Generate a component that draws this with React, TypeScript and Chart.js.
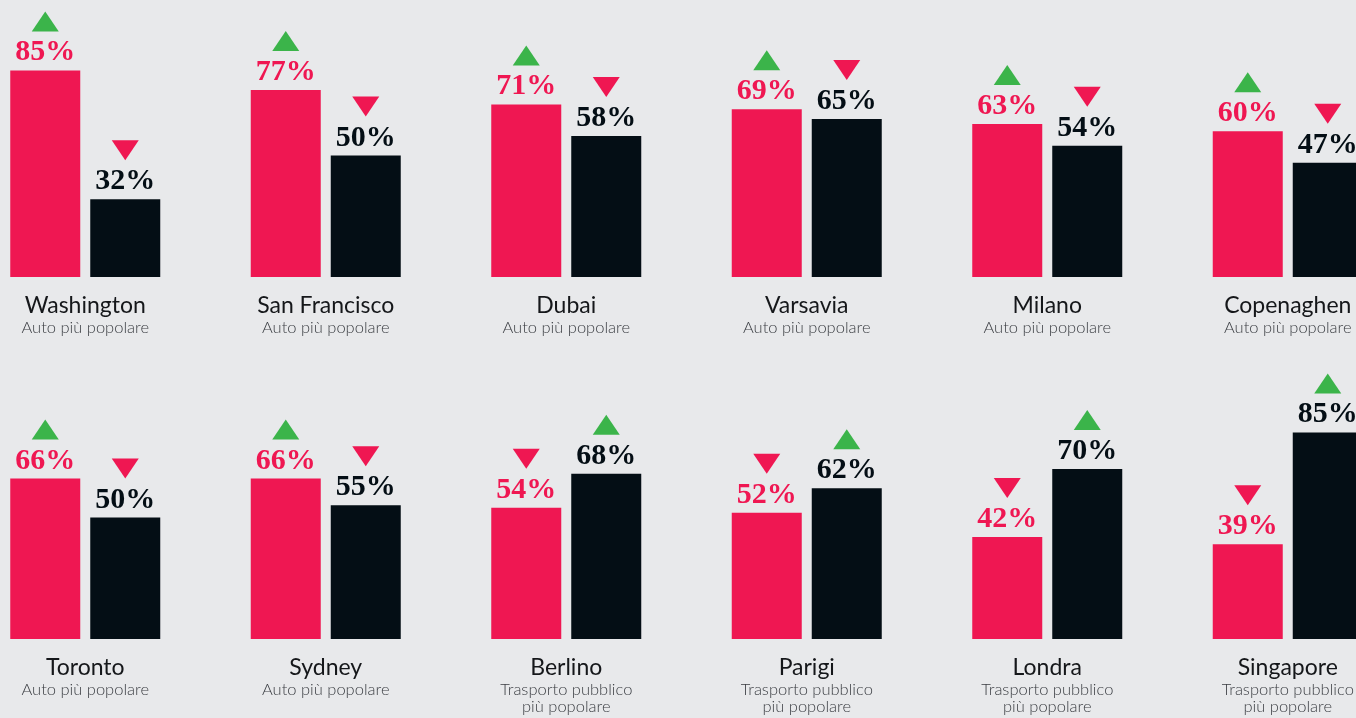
import { useEffect, useRef } from "react";
import { Chart, registerables } from "chart.js";

Chart.register(...registerables);

// ---- Data ----
const citiesTop = ["Washington", "San Francisco", "Dubai", "Varsavia", "Milano", "Copenaghen"];
const carTop = [85, 77, 71, 69, 63, 60];
const transitTop = [32, 50, 58, 65, 54, 47];
const notesTop = [
  "Auto più popolare",
  "Auto più popolare",
  "Auto più popolare",
  "Auto più popolare",
  "Auto più popolare",
  "Auto più popolare",
];

const citiesBottom = ["Toronto", "Sydney", "Berlino", "Parigi", "Londra", "Singapore"];
const carBottom = [66, 66, 54, 52, 42, 39];
const transitBottom = [50, 55, 68, 62, 70, 85];
const notesBottom = [
  "Auto più popolare",
  "Auto più popolare",
  "Trasporto pubblico\npiù popolare",
  "Trasporto pubblico\npiù popolare",
  "Trasporto pubblico\npiù popolare",
  "Trasporto pubblico\npiù popolare",
];

const seriesNames = ["Auto", "Trasporto pubblico"];

const PINK = "#ef1752";
const DARK = "#040e15";
const GREEN = "#3bb44a";
const BG = "#e8e9eb";

function makePlugin(notes: string[]) {
  return {
    id: "cityLabels",
    afterDatasetsDraw(chart: any) {
      const ctx: CanvasRenderingContext2D = chart.ctx;
      const ds = chart.data.datasets;
      const m0 = chart.getDatasetMeta(0);
      const m1 = chart.getDatasetMeta(1);
      ctx.save();
      [m0, m1].forEach((meta: any, di: number) => {
        meta.data.forEach((bar: any, i: number) => {
          const v = ds[di].data[i] as number;
          const other = ds[1 - di].data[i] as number;
          const x = bar.x;
          const baseline = bar.y - 10;
          ctx.font = 'bold 30px "Liberation Serif", serif';
          ctx.textAlign = "center";
          ctx.textBaseline = "alphabetic";
          ctx.fillStyle = di === 0 ? PINK : DARK;
          ctx.fillText(v + "%", x, baseline);
          // triangle
          const up = v > other;
          const tTop = baseline - 49;
          const tBot = baseline - 29;
          const hw = 13.5;
          ctx.beginPath();
          if (up) {
            ctx.moveTo(x, tTop);
            ctx.lineTo(x + hw, tBot);
            ctx.lineTo(x - hw, tBot);
          } else {
            ctx.moveTo(x - hw, tTop);
            ctx.lineTo(x + hw, tTop);
            ctx.lineTo(x, tBot);
          }
          ctx.closePath();
          ctx.fillStyle = up ? GREEN : PINK;
          ctx.fill();
        });
      });
      // city names and notes
      const xs = chart.scales.x;
      const bottom = chart.chartArea.bottom;
      (chart.data.labels as string[]).forEach((name: string, i: number) => {
        const x = xs.getPixelForValue(i);
        ctx.textAlign = "center";
        ctx.textBaseline = "alphabetic";
        ctx.fillStyle = "#15171a";
        ctx.font = '400 23px Lato, sans-serif';
        ctx.fillText(name, x, bottom + 36);
        ctx.fillStyle = "#3a3d42";
        ctx.font = '300 16.5px Lato, sans-serif';
        notes[i].split("\n").forEach((line, k) => {
          ctx.fillText(line, x, bottom + 56 + k * 17);
        });
      });
      ctx.restore();
    },
  };
}

function RowChart(props: {
  labels: string[];
  car: number[];
  transit: number[];
  notes: string[];
  top: number;
  padTop: number;
  padBottom: number;
}) {
  const ref = useRef<HTMLCanvasElement | null>(null);
  useEffect(() => {
    if (!ref.current) return;
    const chart = new Chart(ref.current, {
      type: "bar",
      data: {
        labels: props.labels,
        datasets: [
          {
            label: seriesNames[0],
            data: props.car,
            backgroundColor: PINK,
            categoryPercentage: 160 / 240.5,
            barPercentage: 70 / 80,
          },
          {
            label: seriesNames[1],
            data: props.transit,
            backgroundColor: DARK,
            categoryPercentage: 160 / 240.5,
            barPercentage: 70 / 80,
          },
        ],
      },
      options: {
        responsive: false,
        animation: false,
        layout: { padding: { top: props.padTop, bottom: props.padBottom, left: 0, right: 0 } },
        plugins: { legend: { display: false }, tooltip: { enabled: false } },
        scales: {
          x: { display: false, grid: { display: false } },
          y: { display: false, min: 0, max: 100, grid: { display: false } },
        },
      },
      plugins: [makePlugin(props.notes)],
    });
    return () => chart.destroy();
  }, []);
  return (
    <canvas
      ref={ref}
      width={1443}
      height={359}
      style={{ position: "absolute", left: -35, top: props.top, width: 1443, height: 359 }}
    />
  );
}

export default function App() {
  return (
    <div
      style={{
        position: "fixed",
        left: 0,
        top: 0,
        width: 1356,
        height: 718,
        background: BG,
        overflow: "hidden",
      }}
    >
      <RowChart labels={citiesTop} car={carTop} transit={transitTop} notes={notesTop} top={0} padTop={34} padBottom={82} />
      <RowChart
        labels={citiesBottom}
        car={carBottom}
        transit={transitBottom}
        notes={notesBottom}
        top={359}
        padTop={37}
        padBottom={79}
      />
    </div>
  );
}
